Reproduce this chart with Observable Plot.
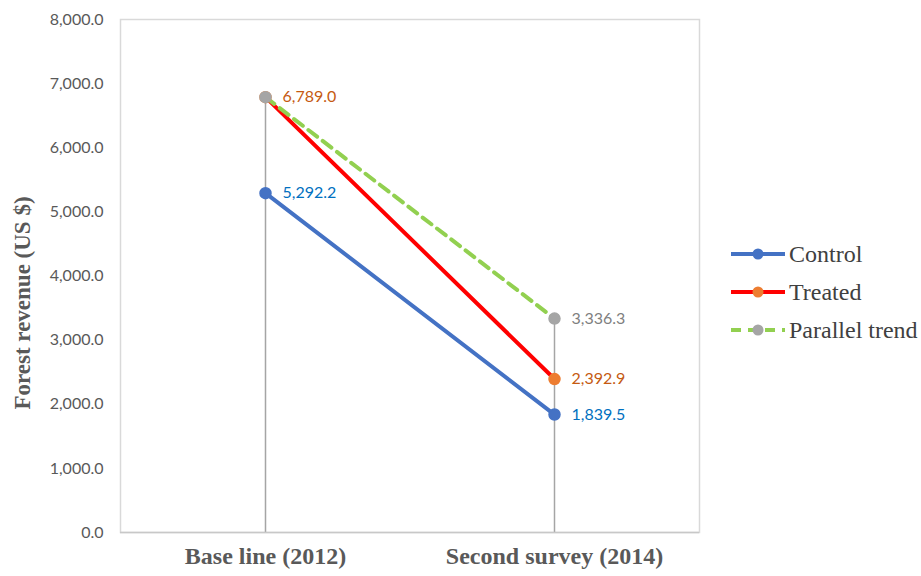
<!DOCTYPE html>
<html>
<head>
<meta charset="utf-8">
<script src="https://cdn.jsdelivr.net/npm/d3@7"></script>
<script src="https://cdn.jsdelivr.net/npm/@observablehq/plot@0.6"></script>
<style>
  html, body { margin: 0; padding: 0; background: #fff; }
  #wrap { position: relative; width: 921px; height: 576px; }
  #legend { position: absolute; left: 731px; top: 235px; font-family: "Liberation Serif", "Times New Roman", serif; font-size: 24px; color: #404040; }
  .row { display: flex; align-items: center; height: 38px; }
  .row svg { margin-right: 4px; }
</style>
</head>
<body>
<div id="wrap"><div id="legend"></div></div>
<script>
const categories = ["Base line (2012)", "Second survey (2014)"];
const control = [5292.2, 1839.5];
const treated = [6789.0, 2392.9];
const parallel = [6789.0, 3336.3];
const yTicks = [0, 1000, 2000, 3000, 4000, 5000, 6000, 7000, 8000];
const seriesNames = ["Control", "Treated", "Parallel trend"];

const lineColor = {"Control": "#4472C4", "Treated": "#FF0000", "Parallel trend": "#92D050"};
const markColor = {"Control": "#4472C4", "Treated": "#ED7D31", "Parallel trend": "#A5A5A5"};
const labelColor = {"Control": "#0070C0", "Treated": "#C55A11", "Parallel trend": "#7F7F7F"};

const rows = [];
[control, treated, parallel].forEach((vals, si) => {
  vals.forEach((v, i) => rows.push({series: seriesNames[si], cat: categories[i], value: v}));
});
// labels: parallel-trend label hidden where it coincides with treated
const labelRows = rows.filter(d => !(d.series === "Parallel trend" && treated[categories.indexOf(d.cat)] === d.value));
const drops = categories.map((c, i) => ({cat: c, top: Math.max(control[i], treated[i], parallel[i])}));
const fmt = d3.format(",.1f");

const chart = Plot.plot({
  width: 921,
  height: 576,
  marginLeft: 120,
  marginRight: 222,
  marginTop: 19,
  marginBottom: 44,
  style: {background: "#fff"},
  x: {type: "point", domain: categories, padding: 0.5, label: null},
  y: {domain: [0, 8000], label: null},
  marks: [
    Plot.frame({stroke: "#d9d9d9", strokeWidth: 1.5}),
    Plot.ruleX(drops, {x: "cat", y1: 0, y2: "top", stroke: "#A5A5A5", strokeWidth: 1.5}),
    Plot.ruleY([0], {stroke: "#c8c8c8", strokeWidth: 1.5}),
    Plot.axisY({ticks: yTicks, tickSize: 0, tickPadding: 17, tickFormat: fmt, fontSize: 16, fontFamily: "Lato, sans-serif", fill: "#595959", label: null}),
    Plot.axisX({tickSize: 0, tickPadding: 14, fontSize: 24, fontFamily: "Liberation Serif, serif", fontWeight: "bold", fill: "#595959", label: null}),
    Plot.text(["Forest revenue (US $)"], {frameAnchor: "left", textAnchor: "middle", dx: -98, dy: 27, rotate: -90, fontSize: 23, fontWeight: "bold", fontFamily: "Liberation Serif, serif", fill: "#595959"}),
    ...seriesNames.map(s => Plot.line(rows.filter(d => d.series === s), {
      x: "cat", y: "value", stroke: lineColor[s], strokeWidth: 4,
      strokeDasharray: s === "Parallel trend" ? "11,7" : null
    })),
    ...seriesNames.map(s => Plot.dot(rows.filter(d => d.series === s), {
      x: "cat", y: "value", r: 5.5, fill: markColor[s], stroke: markColor[s]
    })),
    Plot.text(labelRows, {x: "cat", y: "value", text: d => fmt(d.value), dx: 17, textAnchor: "start",
      fill: d => labelColor[d.series], fontSize: 16, fontFamily: "Lato, sans-serif"})
  ]
});
document.getElementById("wrap").prepend(chart);

const legend = document.getElementById("legend");
seriesNames.forEach(s => {
  const row = document.createElement("div");
  row.className = "row";
  const dash = s === "Parallel trend" ? 'stroke-dasharray="10,7"' : "";
  row.innerHTML = `<svg width="54" height="14"><line x1="0" y1="7" x2="54" y2="7" stroke="${lineColor[s]}" stroke-width="4" ${dash}/><circle cx="27" cy="7" r="5.5" fill="${markColor[s]}"/></svg><span>${s}</span>`;
  legend.appendChild(row);
});
</script>
</body>
</html>
